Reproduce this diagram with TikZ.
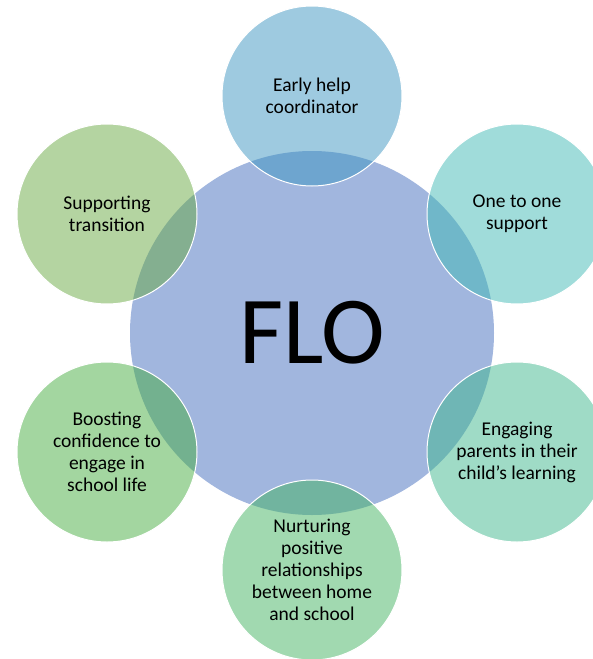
\documentclass[tikz,border=0pt]{standalone}
\usepackage{fontspec}
\setmainfont{Carlito}

\definecolor{floblue}{RGB}{161,182,222}
\definecolor{helpblue}{RGB}{61,149,193}
\definecolor{onecyan}{RGB}{65,185,181}
\definecolor{parentteal}{RGB}{63,183,141}
\definecolor{homegreen}{RGB}{67,179,97}
\definecolor{schoolgreen}{RGB}{71,173,65}
\definecolor{transgreen}{RGB}{105,169,67}

\tikzset{
	hub/.style={circle, fill=floblue, minimum size=364pt, inner sep=0pt,
		font=\fontsize{96}{100}\selectfont},
	bubble/.style={circle, minimum size=180pt, inner sep=0pt, draw=white,
		line width=1pt, fill opacity=0.5, text opacity=1, align=center,
		font=\fontsize{19.5}{22}\selectfont}
}

\begin{document}
\begin{tikzpicture}[x=1pt,y=-1pt]
	\useasboundingbox (0,0) rectangle (593,659);
	
	% centre
	\node[hub] (flo) at (312,333) {FLO};
	
	% ring of bubbles
	\node[bubble, fill=helpblue] (help) at (312,96) {Early help\\coordinator};
	\node[bubble, fill=onecyan] (onetoone) at (517,214) {One to one\\support};
	\node[bubble, fill=parentteal] (parents) at (517,452) {Engaging\\parents in their\\child’s learning};
	\node[bubble, fill=homegreen] (nurture) at (312,570) {Nurturing\\positive\\relationships\\between home\\and school};
	\node[bubble, fill=schoolgreen] (boost) at (107,452) {Boosting\\confidence to\\engage in\\school life};
	\node[bubble, fill=transgreen] (transition) at (107,214) {Supporting\\transition};
\end{tikzpicture}
\end{document}
